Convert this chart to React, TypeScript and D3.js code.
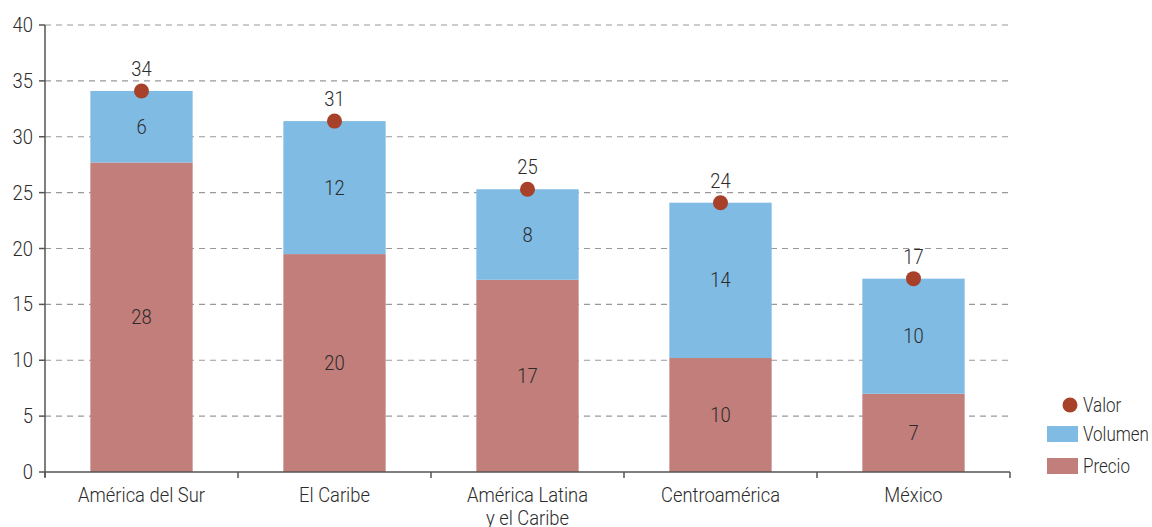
import React from "react";
import * as d3 from "d3";

const categories: string[][] = [["América del Sur"], ["El Caribe"], ["América Latina", "y el Caribe"], ["Centroamérica"], ["México"]];
const precio = [27.7, 19.5, 17.2, 10.2, 7.0];
const volumen = [6.4, 11.9, 8.1, 13.9, 10.3];
const valor = [34.1, 31.4, 25.3, 24.1, 17.3];
const precioLabels = ["28", "20", "17", "10", "7"];
const volumenLabels = ["6", "12", "8", "14", "10"];
const valorLabels = ["34", "31", "25", "24", "17"];
const yTicks = [0, 5, 10, 15, 20, 25, 30, 35, 40];
const legendItems = ["Valor", "Volumen", "Precio"];

const W = 1152, H = 527;
const left = 45, right = 1010, top = 25, bottom = 472;
const FONT = "Roboto, 'Liberation Sans', sans-serif";
const FS = 20;
const BLUE = "#7FBBE3", ROSE = "#C27E7A", DOT = "#A8412A", TXT = "#2b2b2b";

function T(props: { x: number; y: number; anchor?: string; dy?: string; sx?: number; children: React.ReactNode }) {
  return (
    <g transform={`translate(${props.x},${props.y}) scale(${props.sx ?? 0.92},1)`}>
      <text x={0} y={0} dy={props.dy} textAnchor={(props.anchor || "middle") as any} fontSize={FS} fontWeight={300} fill={TXT}>{props.children}</text>
    </g>
  );
}

export default function App() {
  const x = d3.scaleBand<number>().domain(d3.range(categories.length)).range([left, right]).paddingInner(0.47).paddingOuter(0.235);
  const band = d3.scaleBand<number>().domain(d3.range(categories.length)).range([left, right]);
  const y = d3.scaleLinear().domain([0, 40]).range([bottom, top]);
  const bw = x.bandwidth();
  return (
    <svg width={W} height={H} style={{ position: "absolute", left: 0, top: 0, fontFamily: FONT }}>
      {yTicks.filter(t => t > 0).map(t => (
        <line key={t} x1={left} x2={right} y1={y(t)} y2={y(t)} stroke="#999" strokeWidth={1.2} strokeDasharray="6,5" />
      ))}
      {categories.map((c, i) => {
        const x0 = x(i)!;
        const cx = x0 + bw / 2;
        return (
          <g key={i}>
            <rect x={x0} y={y(precio[i])} width={bw} height={y(0) - y(precio[i])} fill={ROSE} />
            <rect x={x0} y={y(precio[i] + volumen[i])} width={bw} height={y(precio[i]) - y(precio[i] + volumen[i])} fill={BLUE} />
            <T x={cx} y={(y(0) + y(precio[i])) / 2} dy="0.35em">{precioLabels[i]}</T>
            <T x={cx} y={(y(precio[i]) + y(precio[i] + volumen[i])) / 2} dy="0.35em">{volumenLabels[i]}</T>
            <circle cx={cx} cy={y(valor[i])} r={7.5} fill={DOT} />
            <T x={cx} y={y(valor[i]) - 15}>{valorLabels[i]}</T>
            {c.map((line, j) => (
              <T key={j} x={band(i)! + band.bandwidth() / 2} y={502 + j * 23}>{line}</T>
            ))}
          </g>
        );
      })}
      <line x1={left} x2={left} y1={top} y2={bottom + 5} stroke="#555" strokeWidth={1.5} />
      <line x1={left} x2={right} y1={bottom} y2={bottom} stroke="#555" strokeWidth={1.5} />
      {yTicks.map(t => (
        <g key={t}>
          <line x1={left - 6} x2={left} y1={y(t)} y2={y(t)} stroke="#555" strokeWidth={1.5} />
          <T x={left - 12} y={y(t)} dy="0.35em" anchor="end">{t}</T>
        </g>
      ))}
      {d3.range(categories.length + 1).map(i => {
        const xx = left + i * band.bandwidth();
        return <line key={i} x1={xx} x2={xx} y1={bottom} y2={bottom + 6} stroke="#555" strokeWidth={1.5} />;
      })}
      <g>
        <circle cx={1070} cy={405} r={7.5} fill={DOT} />
        <T x={1083} y={405} dy="0.35em" anchor="start" sx={0.85}>{legendItems[0]}</T>
        <rect x={1047} y={426} width={31} height={16} fill={BLUE} />
        <T x={1083} y={434} dy="0.35em" anchor="start" sx={0.85}>{legendItems[1]}</T>
        <rect x={1047} y={458} width={31} height={16} fill={ROSE} />
        <T x={1083} y={466} dy="0.35em" anchor="start" sx={0.85}>{legendItems[2]}</T>
      </g>
    </svg>
  );
}
